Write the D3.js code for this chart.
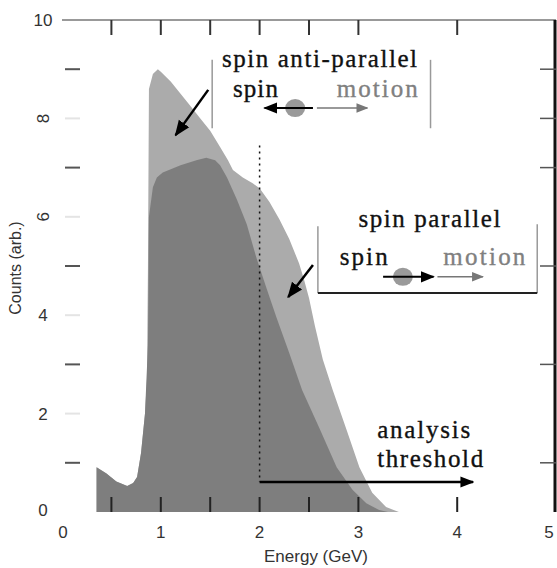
<!DOCTYPE html>
<html>
<head>
<meta charset="utf-8">
<script src="https://cdn.jsdelivr.net/npm/d3@7/dist/d3.min.js"></script>
<style>
  html, body { margin: 0; padding: 0; background: #fff; }
  svg { display: block; }
</style>
</head>
<body>
<div id="chart"></div>
<script>
// spin anti-parallel spectrum (light grey)
const antiEnergy = [0.35, 0.45, 0.55, 0.66, 0.72, 0.76, 0.8, 0.84, 0.86, 0.87, 0.88, 0.92, 0.97, 1.0, 1.1, 1.2, 1.3, 1.4, 1.5, 1.6, 1.68, 1.73, 1.83, 1.93, 2.0, 2.1, 2.2, 2.3, 2.4, 2.45, 2.5, 2.56, 2.64, 2.74, 2.88, 3.01, 3.14, 3.28, 3.41]
const antiCounts = [0.91, 0.78, 0.62, 0.53, 0.59, 0.71, 1.2, 2.0, 2.7, 5.0, 8.6, 8.9, 9.0, 8.95, 8.75, 8.5, 8.25, 8.0, 7.75, 7.42, 7.15, 6.95, 6.8, 6.68, 6.58, 6.3, 5.95, 5.55, 5.05, 4.72, 4.35, 3.78, 3.1, 2.48, 1.67, 0.91, 0.39, 0.1, 0]

// spin parallel spectrum (dark grey)
const parEnergy = [0.35, 0.45, 0.55, 0.66, 0.72, 0.76, 0.8, 0.84, 0.87, 0.875, 0.88, 0.92, 0.96, 1.02, 1.2, 1.36, 1.46, 1.55, 1.6, 1.67, 1.77, 1.87, 1.97, 2.07, 2.17, 2.3, 2.43, 2.6, 2.78, 2.94, 3.08, 3.21, 3.3]
const parCounts = [0.91, 0.78, 0.62, 0.53, 0.59, 0.71, 1.2, 2.0, 3.4, 4.7, 6.0, 6.6, 6.8, 6.9, 7.05, 7.15, 7.2, 7.15, 7.05, 6.8, 6.35, 5.85, 5.15, 4.55, 3.96, 3.23, 2.48, 1.73, 0.91, 0.45, 0.18, 0.04, 0]

const xTickLabels = [0, 1, 2, 3, 4, 5]
const xTickMarks = [0.5, 1, 1.5, 2, 2.5, 3, 4]
const yTickLabels = [0, 2, 4, 6, 8, 10]
const yTickMarks = [1, 2, 3, 4, 5, 6, 7, 8, 9]
const yRightTicks = [1, 3, 5, 7, 8, 9]
const threshold = 2

const width = 557, height = 568

const svg = d3.select("#chart").append("svg")
    .attr("width", width)
    .attr("height", height)

const defs = svg.append("defs")
const addHead = (id, color, size) => {
    defs.append("marker")
        .attr("id", id)
        .attr("viewBox", "0 0 10 10")
        .attr("refX", 9).attr("refY", 5)
        .attr("markerUnits", "userSpaceOnUse")
        .attr("markerWidth", size).attr("markerHeight", size)
        .attr("orient", "auto")
      .append("path")
        .attr("d", "M0,1 L10,5 L0,9 Z")
        .attr("fill", color)
}
addHead("headBlack", "#000", 14)
addHead("headGrey", "#777", 12)
addHead("headPoint", "#000", 16)

const x = d3.scaleLinear().domain([0, 5]).range([62, 556])
const y = d3.scaleLinear().domain([0, 10]).range([512, 20])

const area = d3.area()
    .x(d => x(d[0]))
    .y0(y(0))
    .y1(d => y(d[1]))

svg.append("path")
    .datum(d3.zip(antiEnergy, antiCounts))
    .attr("fill", "#ababab")
    .attr("d", area)

svg.append("path")
    .datum(d3.zip(parEnergy, parCounts))
    .attr("fill", "#7e7e7e")
    .attr("d", area)

// frame: top and right lines only
svg.append("line")
    .attr("x1", x(0)).attr("x2", x(5))
    .attr("y1", y(10)).attr("y2", y(10))
    .attr("stroke", "#777").attr("stroke-width", 1.5)
svg.append("line")
    .attr("x1", x(5) - 1).attr("x2", x(5) - 1)
    .attr("y1", y(10)).attr("y2", y(0))
    .attr("stroke", "#111").attr("stroke-width", 3)

// x ticks top and bottom
svg.append("g").selectAll("line")
    .data(xTickMarks)
    .join("line")
    .attr("x1", d => x(d)).attr("x2", d => x(d))
    .attr("y1", y(10)).attr("y2", y(10) + 15)
    .attr("stroke", "#333").attr("stroke-width", 2)
svg.append("g").selectAll("line")
    .data(xTickMarks)
    .join("line")
    .attr("x1", d => x(d)).attr("x2", d => x(d))
    .attr("y1", y(0)).attr("y2", y(0) - 15)
    .attr("stroke", "#222").attr("stroke-width", 2)

// y ticks left (even ones washed out) and right
svg.append("g").selectAll("line")
    .data(yTickMarks)
    .join("line")
    .attr("x1", 65).attr("x2", 80)
    .attr("y1", d => y(d)).attr("y2", d => y(d))
    .attr("stroke", d => d % 2 ? "#555" : "#e4e4e4").attr("stroke-width", 2)
svg.append("g").selectAll("line")
    .data(yRightTicks)
    .join("line")
    .attr("x1", x(5) - 16).attr("x2", x(5))
    .attr("y1", d => y(d)).attr("y2", d => y(d))
    .attr("stroke", "#555").attr("stroke-width", 1.5)

// tick labels
svg.append("g").selectAll("text")
    .data(xTickLabels)
    .join("text")
    .attr("x", d => x(d) + (d === 0 ? 1 : d === 5 ? -7 : 0))
    .attr("y", 538)
    .attr("text-anchor", "middle")
    .attr("font-family", "Liberation Sans, Arial, sans-serif")
    .attr("font-size", 17)
    .attr("fill", "#333")
    .text(d => d)

// 6 and 8 appear turned sideways in the scan
svg.append("g").selectAll("text")
    .data(yTickLabels)
    .join("text")
    .attr("transform", d => (d === 6 || d === 8)
            ? `translate(49,${y(d)}) rotate(-90)`
            : `translate(43,${d === 0 ? y(d) + 4 : y(d) + 6})`)
    .attr("text-anchor", "middle")
    .attr("font-family", "Liberation Sans, Arial, sans-serif")
    .attr("font-size", 17)
    .attr("fill", "#333")
    .text(d => d)

// axis titles
svg.append("text")
    .attr("x", 316).attr("y", 562)
    .attr("text-anchor", "middle")
    .attr("font-family", "Liberation Sans, Arial, sans-serif")
    .attr("font-size", 17)
    .attr("fill", "#333")
    .text("Energy (GeV)")

svg.append("text")
    .attr("transform", "translate(21,268) rotate(-90)")
    .attr("text-anchor", "middle")
    .attr("font-family", "Liberation Sans, Arial, sans-serif")
    .attr("font-size", 16)
    .attr("fill", "#333")
    .text("Counts (arb.)")

// threshold marker
svg.append("line")
    .attr("x1", x(threshold)).attr("x2", x(threshold))
    .attr("y1", y(7.45)).attr("y2", y(0.61))
    .attr("stroke", "#111").attr("stroke-width", 1.5)
    .attr("stroke-dasharray", "2,4")
svg.append("line")
    .attr("x1", x(threshold)).attr("x2", x(4.16))
    .attr("y1", y(0.61)).attr("y2", y(0.61))
    .attr("stroke", "#000").attr("stroke-width", 2.5)
    .attr("marker-end", "url(#headBlack)")

const serif = "Liberation Serif, Times New Roman, serif"
const label = (txt, ex, ey, len, opts = {}) => svg.append("text")
    .attr("x", x(ex)).attr("y", y(ey))
    .attr("font-family", serif)
    .attr("font-size", opts.size || 25)
    .attr("fill", opts.fill || "#111")
    .attr("stroke", opts.fill || "#111")
    .attr("stroke-width", 0.35)
    .attr("textLength", len)
    .attr("lengthAdjust", "spacing")
    .text(txt)

label("analysis", 3.19, 1.5, 93)
label("threshold", 3.19, 0.91, 106)

// anti-parallel inset
const vline = (ex, e1, e2, color) => svg.append("line")
    .attr("x1", x(ex)).attr("x2", x(ex))
    .attr("y1", y(e1)).attr("y2", y(e2))
    .attr("stroke", color).attr("stroke-width", 1.5)

vline(1.52, 9.19, 7.8, "#999")
vline(3.73, 9.19, 7.8, "#999")
label("spin anti-parallel", 1.62, 9.04, 195)
label("spin", 1.73, 8.43, 45)
label("motion", 2.78, 8.43, 81, { fill: "#808080" })

const arrow = (e1, c1, e2, c2, color, w, head) => svg.append("line")
    .attr("x1", x(e1)).attr("y1", y(c1))
    .attr("x2", x(e2)).attr("y2", y(c2))
    .attr("stroke", color).attr("stroke-width", w)
    .attr("marker-end", `url(#${head})`)

svg.append("ellipse")
    .attr("cx", x(2.36)).attr("cy", y(8.21))
    .attr("rx", 10).attr("ry", 9)
    .attr("fill", "#9a9a9a")
arrow(2.54, 8.21, 2.05, 8.21, "#000", 2, "headBlack")
arrow(2.58, 8.21, 3.09, 8.21, "#777", 1.5, "headGrey")
arrow(1.48, 8.58, 1.15, 7.66, "#000", 2.5, "headPoint")

// parallel inset
vline(2.59, 5.81, 4.45, "#999")
vline(4.81, 5.85, 4.45, "#999")
svg.append("line")
    .attr("x1", x(2.59)).attr("x2", x(4.81))
    .attr("y1", y(4.45)).attr("y2", y(4.45))
    .attr("stroke", "#222").attr("stroke-width", 2)
label("spin parallel", 3.0, 5.79, 142)
label("spin", 2.81, 5.02, 48)
label("motion", 3.86, 5.02, 82, { fill: "#808080" })

svg.append("ellipse")
    .attr("cx", x(3.45)).attr("cy", y(4.78))
    .attr("rx", 10).attr("ry", 9)
    .attr("fill", "#9a9a9a")
arrow(3.25, 4.78, 3.76, 4.78, "#000", 2, "headBlack")
arrow(3.8, 4.78, 4.26, 4.78, "#777", 1.5, "headGrey")
arrow(2.54, 5.02, 2.29, 4.37, "#000", 2.5, "headPoint")
</script>
</body>
</html>
